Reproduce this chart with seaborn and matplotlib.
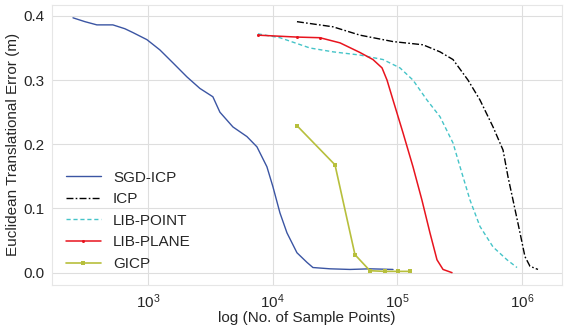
import numpy as np
import pandas as pd
import matplotlib
matplotlib.use("Agg")
import matplotlib.pyplot as plt
import seaborn as sns

# values
sgd_x = [251, 313, 390, 524, 654, 759, 982, 1248, 1585, 2055, 2612, 3319, 3778, 4806,
         6223, 7487, 8997, 10050, 11450, 13030, 15670, 18850, 21040, 28840, 41700, 60300, 92300]
sgd_y = [0.397, 0.391, 0.386, 0.386, 0.380, 0.374, 0.363, 0.347, 0.327, 0.305, 0.287, 0.274,
         0.250, 0.227, 0.212, 0.196, 0.165, 0.134, 0.093, 0.062, 0.031, 0.016, 0.008, 0.006,
         0.005, 0.006, 0.005]

icp_x = [15670, 30460, 50120, 92260, 160400, 219600, 279300, 368300, 459400, 584800,
         703200, 771200, 845600, 961900, 1054000, 1156000, 1340000]
icp_y = [0.391, 0.383, 0.370, 0.360, 0.355, 0.344, 0.332, 0.300, 0.269, 0.227, 0.191,
         0.149, 0.113, 0.062, 0.025, 0.010, 0.005]

point_x = [7621, 11450, 19910, 30460, 50120, 76740, 104900, 133400, 172600, 219600,
           279300, 317800, 382300, 459400, 584800, 757200, 910200]
point_y = [0.372, 0.366, 0.350, 0.344, 0.339, 0.332, 0.319, 0.300, 0.269, 0.243, 0.202,
           0.165, 0.113, 0.072, 0.040, 0.020, 0.008]

plane_x = [7621, 15670, 23940, 34670, 50120, 63710, 75330, 82600, 92260, 110900, 133400,
           157400, 182500, 207800, 232300, 274200]
plane_y = [0.370, 0.367, 0.366, 0.358, 0.343, 0.332, 0.319, 0.300, 0.269, 0.218, 0.165,
           0.113, 0.062, 0.020, 0.005, 0.000]

gicp_x = [15670, 31620, 45710, 60300, 79570, 101200, 126300]
gicp_y = [0.229, 0.168, 0.028, 0.003, 0.002, 0.002, 0.002]

sns.set_style("whitegrid", {"grid.color": "#dedede"})
plt.rcParams["font.family"] = ["Liberation Sans", "DejaVu Sans"]
plt.rcParams["mathtext.fontset"] = "custom"
plt.rcParams["mathtext.rm"] = "Liberation Sans"

fig = plt.figure(figsize=(5.64, 3.32), dpi=100)
ax = fig.add_axes([0.092, 0.142, 0.905, 0.843])

sns.lineplot(x=sgd_x, y=sgd_y, ax=ax, color="#3b55a3", lw=1.0, label="SGD-ICP")
sns.lineplot(x=icp_x, y=icp_y, ax=ax, color="black", lw=1.0, dashes=False,
             label="ICP").lines[-1].set_dashes((5, 1.6, 1.2, 1.6))
sns.lineplot(x=point_x, y=point_y, ax=ax, color="#45c4c8", lw=1.0, label="LIB-POINT"
             ).lines[-1].set_dashes((3, 2))
sns.lineplot(x=plane_x, y=plane_y, ax=ax, color="#e8141e", lw=1.1, marker="o", markersize=2.2,
             markeredgewidth=0, markevery=[0, 1, 2], label="LIB-PLANE")
sns.lineplot(x=gicp_x, y=gicp_y, ax=ax, color="#b7bf3c", lw=1.2, marker="s", markersize=2.5,
             markeredgewidth=0, label="GICP")

ax.set_xscale("log")
ax.set_xlim(170, 2.1e6)
ax.set_ylim(-0.019, 0.417)
ax.set_yticks([0.0, 0.1, 0.2, 0.3, 0.4])
ax.xaxis.set_minor_locator(matplotlib.ticker.NullLocator())
ax.tick_params(labelsize=11, pad=2)
ax.set_xlabel("log (No. of Sample Points)", fontsize=11, labelpad=0)
ax.set_ylabel("Euclidean Translational Error (m)", fontsize=11, labelpad=2)
for s in ax.spines.values():
    s.set_color("#e6e6e6")

leg = ax.legend(loc="lower left", bbox_to_anchor=(0.0, 0.0), frameon=False, fontsize=11,
                handlelength=2.3, labelspacing=0.5)

fig.savefig("out.png", dpi=100)
